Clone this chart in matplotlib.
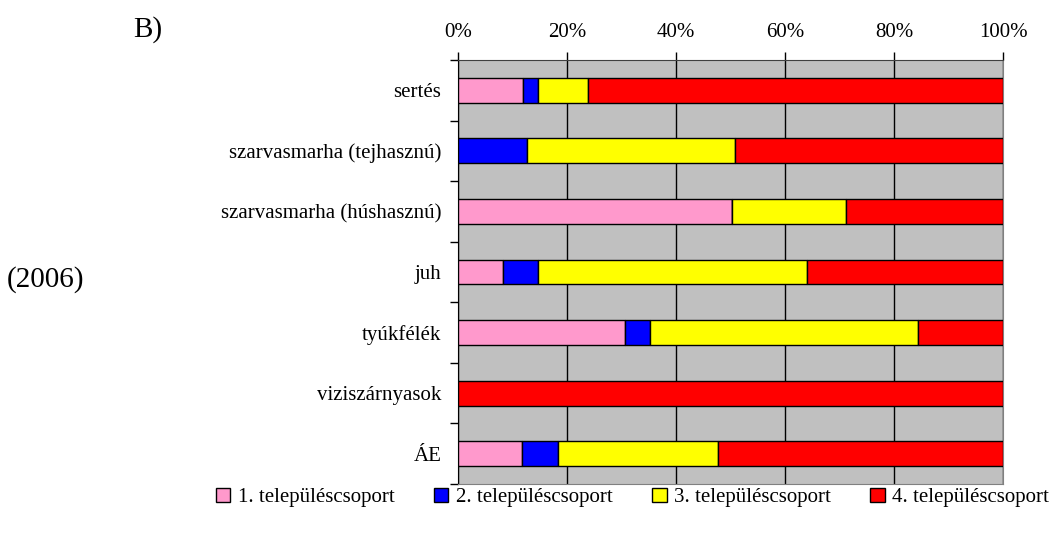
import matplotlib.pyplot as plt
import numpy as np

plt.rcParams['font.family'] = ['Liberation Serif', 'DejaVu Serif']

categories = ['sertés', 'szarvasmarha (tejhasznú)', 'szarvasmarha (húshasznú)',
              'juh', 'tyúkfélék', 'viziszárnyasok', 'ÁE']
groups = ['1. településcsoport', '2. településcsoport',
          '3. településcsoport', '4. településcsoport']
# percentage shares per settlement group
g1 = [12.0, 0.0, 50.3, 8.3, 30.6, 0.0, 11.7]
g2 = [2.6, 12.7, 0.0, 6.3, 4.7, 0.0, 6.6]
g3 = [9.2, 38.1, 20.9, 49.4, 49.1, 0.0, 29.5]
g4 = [76.2, 49.2, 28.8, 36.0, 15.6, 100.0, 52.2]
colors = ['#FF99CC', '#0000FF', '#FFFF00', '#FF0000']

fig = plt.figure(figsize=(10.54, 5.35), dpi=100)
ax = fig.add_axes([0.4345, 0.0953, 0.5171, 0.7925])
ax.set_facecolor('#C0C0C0')

y = np.arange(len(categories))
left = np.zeros(len(categories))
for vals, col, lab in zip([g1, g2, g3, g4], colors, groups):
    vals = np.array(vals)
    ax.barh(y, vals, left=left, height=0.41, color=col, edgecolor='black',
            linewidth=1, label=lab, zorder=3)
    left += vals

ax.set_xlim(0, 100)
ax.set_ylim(len(categories) - 0.5, -0.5)

# x axis on top
ax.xaxis.tick_top()
ax.set_xticks(np.arange(0, 101, 20))
ax.set_xticklabels([f'{v}%' for v in range(0, 101, 20)], fontsize=15)
ax.tick_params(axis='x', direction='out', length=6, width=1, pad=7, colors='black')
ax.grid(axis='x', color='black', linewidth=1, zorder=1)

# category boundaries as major ticks, labels at centres
ax.set_yticks(np.arange(-0.5, len(categories), 1.0))
ax.set_yticklabels([])
ax.set_yticks(y, minor=True)
ax.set_yticklabels(categories, minor=True, fontsize=15)
ax.tick_params(axis='y', which='major', direction='out', length=6, width=1)
ax.tick_params(axis='y', which='minor', length=0, pad=12)

for s in ['bottom', 'right']:
    ax.spines[s].set_color('#808080')
ax.spines['top'].set_color('#404040')
ax.spines['left'].set_color('black')

fig.text(0.126, 0.945, 'B)', fontsize=21, ha='left', va='center')
fig.text(0.006, 0.478, '(2006)', fontsize=21, ha='left', va='center')

fig.legend(loc='center', bbox_to_anchor=(0.6, 0.07), ncol=4, frameon=False,
           fontsize=15, handlelength=0.7, handleheight=0.7, handletextpad=0.35,
           columnspacing=1.9)

fig.savefig('out.png', dpi=100)
